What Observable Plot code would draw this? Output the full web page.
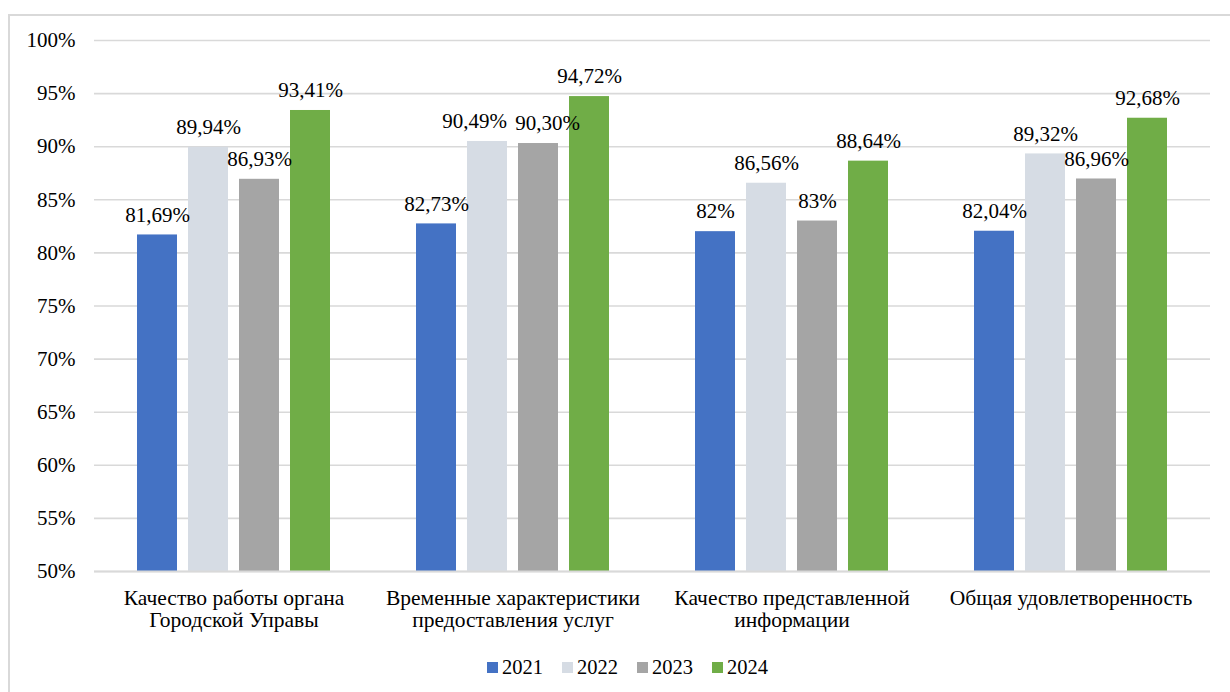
<!DOCTYPE html>
<html>
<head>
<meta charset="utf-8">
<script src="https://cdn.jsdelivr.net/npm/d3@7"></script>
<script src="https://cdn.jsdelivr.net/npm/@observablehq/plot@0.6"></script>
<style>
  html, body { margin: 0; padding: 0; background: #fff; }
  body { width: 1230px; height: 692px; position: relative; overflow: hidden; font-family: 'Liberation Serif', 'Times New Roman', serif; color: #000; }
  #frame { position: absolute; left: 8px; top: 14px; width: 1250px; height: 720px; border: 2px solid #d9d9d9; box-sizing: border-box; }
  #chart { position: absolute; left: 0; top: 0; }
  #legend { position: absolute; top: 655px; left: 487px; display: flex; gap: 19px; font-family: 'Liberation Serif', 'Times New Roman', serif; font-size: 20.5px; line-height: 24px; }
  .item { display: flex; align-items: center; }
  .sw { width: 11px; height: 11px; margin-right: 4px; }
</style>
</head>
<body>
<div id="frame"></div>
<div id="chart"></div>
<div id="legend"></div>
<script>
// ---- data ----
const categories = [
  "Качество работы органа\nГородской Управы",
  "Временные характеристики\nпредоставления услуг",
  "Качество представленной\nинформации",
  "Общая удовлетворенность"
];
const years = ["2021", "2022", "2023", "2024"];
const colors = ["#4472C4", "#D6DCE4", "#A5A5A5", "#70AD47"];
const values2021 = [81.69, 82.73, 82, 82.04];
const values2022 = [89.94, 90.49, 86.56, 89.32];
const values2023 = [86.93, 90.30, 83, 86.96];
const values2024 = [93.41, 94.72, 88.64, 92.68];
const labels2021 = ["81,69%", "82,73%", "82%", "82,04%"];
const labels2022 = ["89,94%", "90,49%", "86,56%", "89,32%"];
const labels2023 = ["86,93%", "90,30%", "83%", "86,96%"];
const labels2024 = ["93,41%", "94,72%", "88,64%", "92,68%"];
const yTicks = [50, 55, 60, 65, 70, 75, 80, 85, 90, 95, 100];

const FONT = "'Liberation Serif', 'Times New Roman', serif";
const series = [values2021, values2022, values2023, values2024];
const seriesLabels = [labels2021, labels2022, labels2023, labels2024];
const data = categories.flatMap((cat, i) =>
  years.map((year, j) => ({ cat, year, value: series[j][i], label: seriesLabels[j][i], nudge: 0 }))
);

// Move apart the labels of neighbouring bars whose heights are nearly equal (as the original chart does)
categories.forEach(cat => {
  const rows = data.filter(d => d.cat === cat);
  for (let j = 0; j < rows.length - 1; j++) {
    if (Math.abs(rows[j].value - rows[j + 1].value) < 1) {
      rows[j].nudge -= 13;
      rows[j + 1].nudge += 9;
    }
  }
});
const nudges = Array.from(new Set(data.map(d => d.nudge)));
const labelMarks = nudges.map(n =>
  Plot.text(data.filter(d => d.nudge === n), {
    fx: "cat", x: "year", y: "value", text: "label",
    dx: n, dy: -20, fontSize: 21, fontFamily: FONT, fill: "#000"
  })
);

const chart = Plot.plot({
  width: 1230,
  height: 692,
  marginTop: 40,
  marginBottom: 121,
  marginLeft: 94,
  marginRight: 20,
  style: { fontFamily: FONT, fontSize: "21px", color: "#000", background: "transparent", overflow: "visible" },
  fx: { domain: categories, padding: 0, label: null },
  x: { domain: years, paddingInner: 0.216, paddingOuter: 0.843, axis: null },
  y: { domain: [50, 100], label: null },
  color: { type: "ordinal", domain: years, range: colors },
  marks: [
    Plot.gridY(yTicks, { stroke: "#d9d9d9", strokeOpacity: 1, strokeWidth: 1.6 }),
    Plot.axisY(yTicks, { tickSize: 0, tickPadding: 19, tickFormat: d => d + "%", label: null, fontSize: 21, fontFamily: FONT, fill: "#000" }),
    Plot.axisFx({ tickSize: 0, tickPadding: 17, lineHeight: 1.05, label: null, anchor: "bottom", fontSize: 21.5, fontFamily: FONT, fill: "#000" }),
    Plot.barY(data, { fx: "cat", x: "year", y1: 50, y2: "value", fill: "year" }),
    Plot.ruleY([50], { stroke: "#d9d9d9", strokeWidth: 2 }),
    ...labelMarks
  ]
});
document.getElementById("chart").appendChild(chart);

const legend = document.getElementById("legend");
years.forEach((y, i) => {
  const item = document.createElement("div");
  item.className = "item";
  const sw = document.createElement("span");
  sw.className = "sw";
  sw.style.background = colors[i];
  const t = document.createElement("span");
  t.textContent = y;
  item.appendChild(sw);
  item.appendChild(t);
  legend.appendChild(item);
});
</script>
</body>
</html>
